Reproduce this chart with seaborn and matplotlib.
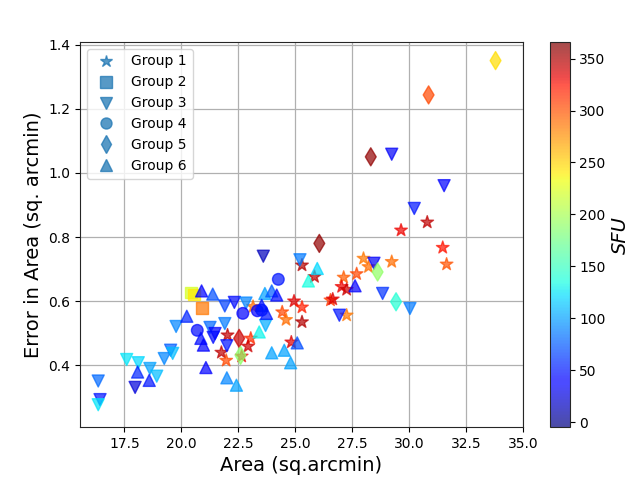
import numpy as np
import matplotlib
matplotlib.use("Agg")
import matplotlib.pyplot as plt
from matplotlib.colors import Normalize
from matplotlib.cm import ScalarMappable
from matplotlib.lines import Line2D
import seaborn as sns

# group 1 - stars
g1_x = [25.30, 25.85, 24.95, 25.30, 24.43, 24.60, 25.30, 24.83, 23.05, 22.93,
        22.03, 21.76, 21.97, 22.65, 26.55, 26.65, 27.13, 27.04, 27.26, 27.70,
        28.00, 28.22, 29.24, 27.26, 29.65, 30.80, 31.48, 31.65, 23.15]
g1_y = [0.712, 0.676, 0.600, 0.581, 0.566, 0.542, 0.535, 0.472, 0.484, 0.459,
        0.494, 0.440, 0.415, 0.428, 0.603, 0.606, 0.674, 0.645, 0.636, 0.685,
        0.733, 0.707, 0.723, 0.556, 0.821, 0.846, 0.767, 0.715, 0.583]
g1_sfu = [350, 345, 335, 320, 305, 290, 350, 335, 315, 340,
          345, 345, 305, 330, 310, 335, 295, 330, 340, 305,
          285, 290, 290, 285, 330, 345, 325, 300, 290]

# group 2 - squares
g2_x = [20.42, 20.57, 20.91]
g2_y = [0.627, 0.621, 0.578]
g2_sfu = [220, 240, 285]

# group 3 - down triangles
g3_x = [23.60, 29.24, 31.54, 30.23, 25.21, 28.46, 28.84, 30.04, 26.94, 16.35,
        16.43, 16.35, 17.60, 18.11, 17.97, 18.62, 18.92, 19.25, 19.53, 19.62,
        19.77, 21.26, 21.48, 21.40, 21.91, 22.00, 21.91, 22.33, 22.84, 23.70]
g3_y = [0.740, 1.058, 0.960, 0.889, 0.729, 0.718, 0.624, 0.577, 0.556, 0.351,
        0.293, 0.277, 0.418, 0.408, 0.331, 0.390, 0.366, 0.421, 0.447, 0.437,
        0.521, 0.518, 0.499, 0.487, 0.530, 0.461, 0.585, 0.596, 0.594, 0.524]
g3_sfu = [15, 35, 40, 50, 85, 35, 60, 85, 50, 80,
          50, 125, 125, 120, 25, 100, 110, 90, 75, 110,
          90, 80, 40, 45, 85, 50, 65, 45, 90, 105]

# group 4 - circles
g4_x = [24.26, 22.70, 23.34, 23.53, 20.70]
g4_y = [0.668, 0.562, 0.570, 0.572, 0.509]
g4_sfu = [50, 40, 40, 50, 45]

# group 5 - diamonds
g5_x = [33.80, 30.86, 28.32, 26.06, 28.62, 29.43, 22.54, 22.60]
g5_y = [1.350, 1.243, 1.050, 0.780, 0.691, 0.598, 0.484, 0.431]
g5_sfu = [245, 305, 360, 360, 190, 140, 340, 190]

# group 6 - up triangles
g6_x = [20.89, 21.38, 20.24, 20.86, 20.97, 21.08, 18.08, 18.59, 22.00, 22.42,
        23.42, 23.67, 23.97, 24.19, 23.74, 23.53, 23.97, 24.52, 24.80, 25.09,
        25.58, 25.97, 27.63]
g6_y = [0.632, 0.622, 0.553, 0.484, 0.463, 0.393, 0.379, 0.353, 0.361, 0.338,
        0.504, 0.624, 0.632, 0.619, 0.562, 0.587, 0.439, 0.447, 0.408, 0.470,
        0.663, 0.702, 0.648]
g6_sfu = [40, 70, 55, 45, 40, 40, 55, 50, 90, 100,
          130, 100, 75, 45, 50, 50, 100, 100, 100, 70,
          135, 120, 40]

labels = ["Group 1", "Group 2", "Group 3", "Group 4", "Group 5", "Group 6"]
markers = ["*", "s", "v", "o", "d", "^"]
sizes = [90, 70, 75, 70, 85, 75]

groups = [(g1_x, g1_y, g1_sfu), (g2_x, g2_y, g2_sfu), (g3_x, g3_y, g3_sfu),
          (g4_x, g4_y, g4_sfu), (g5_x, g5_y, g5_sfu), (g6_x, g6_y, g6_sfu)]

sns.set_style("ticks", {"text.color": "black", "xtick.color": "black",
                        "ytick.color": "black", "axes.labelcolor": "black"})
fig = plt.figure(figsize=(6.4, 4.8), dpi=100)
ax = fig.add_axes([0.125, 0.11, 0.692, 0.8025])
cax = fig.add_axes([0.859, 0.11, 0.031, 0.8025])

jet = matplotlib.colormaps["jet"]
norm = Normalize(vmin=-5, vmax=366)
for (gx, gy, gc), m, s in zip(groups, markers, sizes):
    sns.scatterplot(x=gx, y=gy, hue=gc, palette=jet, hue_norm=norm,
                    marker=m, s=s, alpha=0.7, edgecolor="face", linewidth=1,
                    legend=False, ax=ax)

ax.set_xlim(15.55, 35.0)
ax.set_ylim(0.207, 1.408)
ax.set_xticks(np.arange(17.5, 35.01, 2.5))
ax.grid(True, color="#b0b0b0", linewidth=0.9)
ax.set_xlabel("Area (sq.arcmin)", fontsize=14)
ax.set_ylabel("Error in Area (sq. arcmin)", fontsize=14)

handles = [Line2D([], [], marker=m, linestyle="", color="C0", alpha=0.75,
                  markersize=np.sqrt(s) * 0.95, markeredgewidth=1)
           for m, s in zip(markers, sizes)]
ax.legend(handles, labels, loc="upper left", frameon=True)

sm = ScalarMappable(norm=norm, cmap=jet)
cb = fig.colorbar(sm, cax=cax, alpha=0.7)
cb.set_ticks(np.arange(0, 351, 50))
cb.set_label("SFU", fontsize=14, style="italic")

fig.savefig("out.png", dpi=100)
